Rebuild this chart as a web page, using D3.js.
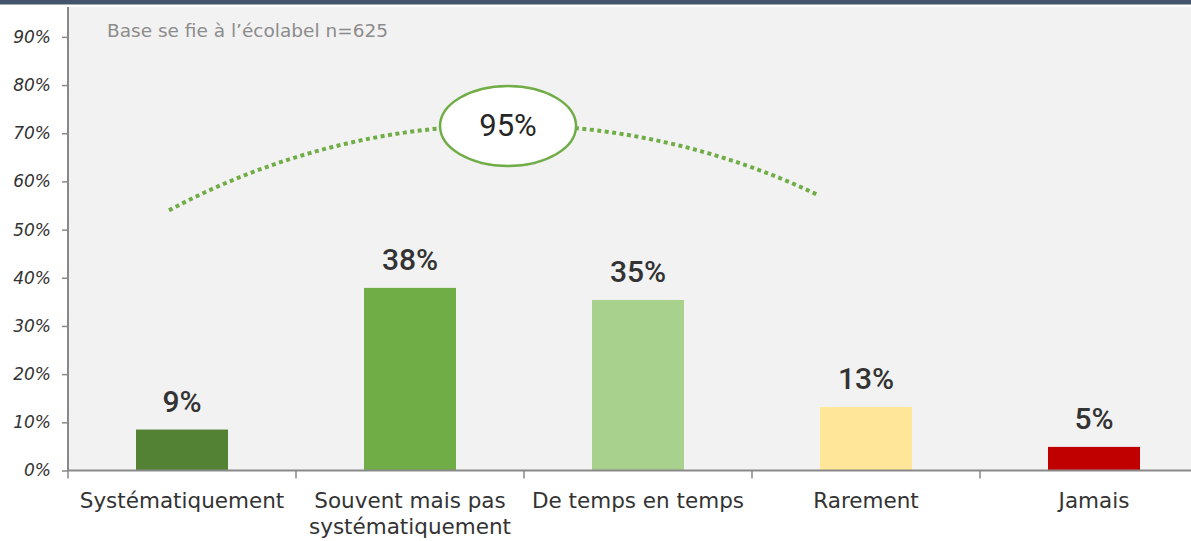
<!DOCTYPE html>
<html>
<head>
<meta charset="utf-8">
<script src="https://cdn.jsdelivr.net/npm/d3@7"></script>
<style>
  body { margin: 0; background: #fff; }
  svg { display: block; }
</style>
</head>
<body>
<svg width="1191" height="541"></svg>
<script>

// DATA ––––––––––––––––––––––––––––––––––––––––––––––––––––––––––––––––

var categories = ["Systématiquement", "Souvent mais pas systématiquement", "De temps en temps", "Rarement", "Jamais"];
var labelLines = [["Systématiquement"], ["Souvent mais pas", "systématiquement"], ["De temps en temps"], ["Rarement"], ["Jamais"]];
var values = [0.085, 0.379, 0.354, 0.132, 0.049];
var valueLabels = ["9%", "38%", "35%", "13%", "5%"];
var barColors = ["#548235", "#70ad47", "#a9d18e", "#ffe699", "#c00000"];
var yTicks = [0, 0.1, 0.2, 0.3, 0.4, 0.5, 0.6, 0.7, 0.8, 0.9];
var baseNote = "Base se fie à l’écolabel n=625";

// annotation : arc over the first three answers (category index, value)
var arcPoints = [{i: 0.443, v: 0.54}, {i: 1.917, v: 0.717}, {i: 3.289, v: 0.572}];
var bubble = {i: 1.93, v: 0.715, text: "95%"};


// D3 ––––––––––––––––––––––––––––––––––––––––––––––––––––––––––––––––––

var draw = function() {

  var svg = d3.select("svg"),
      plotLeft = 68, plotTop = 7, plotBottom = 470.5,
      step = 228;

  svg.append("rect").attr("x", 0).attr("y", 0).attr("width", 1191).attr("height", 4.5).attr("fill", "#44546a");
  svg.append("rect").attr("x", plotLeft).attr("y", plotTop).attr("width", 1191 - plotLeft).attr("height", plotBottom - plotTop).attr("fill", "#f2f2f2");

  var x = d3.scaleBand()
    .domain(categories)
    .range([plotLeft, plotLeft + step * categories.length])
    .paddingInner(0.5965)
    .paddingOuter(0.29825);

  var xi = d3.scaleLinear().domain([0, categories.length]).range([plotLeft, plotLeft + step * categories.length]);

  var y = d3.scaleLinear()
    .domain([0, 0.962])
    .range([plotBottom, plotTop]);

  // y axis
  var yAxis = svg.append("g")
    .attr("transform", "translate(" + plotLeft + ",0)")
    .call(d3.axisLeft(y).tickValues(yTicks).tickFormat(d3.format(".0%")).tickSize(6).tickPadding(11));
  yAxis.select(".domain").attr("stroke", "#898989").attr("stroke-width", 2).attr("d", "M0," + plotTop + "V" + plotBottom);
  yAxis.selectAll(".tick line").attr("stroke", "#898989").attr("stroke-width", 1.5);
  yAxis.selectAll(".tick text")
    .attr("fill", "#333")
    .style("font-family", "'DejaVu Sans', sans-serif")
    .style("font-style", "italic")
    .style("font-size", "17px");

  // bars
  svg.selectAll(".bar")
    .data(categories)
    .enter().append("rect")
      .attr("class", "bar")
      .attr("x", function(d) { return x(d); })
      .attr("width", x.bandwidth())
      .attr("y", function(d, i) { return y(values[i]); })
      .attr("height", function(d, i) { return plotBottom - y(values[i]); })
      .attr("fill", function(d, i) { return barColors[i]; });

  svg.selectAll(".val")
    .data(categories)
    .enter().append("text")
      .attr("class", "val")
      .attr("x", function(d) { return x(d) + x.bandwidth() / 2; })
      .attr("y", function(d, i) { return y(values[i]) - 18; })
      .attr("text-anchor", "middle")
      .attr("fill", "#333")
      .style("font-family", "Roboto, sans-serif")
      .style("font-weight", 500)
      .style("font-size", "30px")
      .text(function(d, i) { return valueLabels[i]; });

  // x axis
  var xAxis = svg.append("g");
  xAxis.append("line")
    .attr("x1", plotLeft).attr("x2", 1191)
    .attr("y1", plotBottom).attr("y2", plotBottom)
    .attr("stroke", "#898989").attr("stroke-width", 2);
  xAxis.selectAll(".xt")
    .data(d3.range(categories.length + 1))
    .enter().append("line")
      .attr("x1", function(d) { return xi(d); })
      .attr("x2", function(d) { return xi(d); })
      .attr("y1", plotBottom).attr("y2", plotBottom + 8)
      .attr("stroke", "#898989").attr("stroke-width", 1.5);

  var xl = xAxis.selectAll(".xl")
    .data(categories)
    .enter().append("text")
      .attr("class", "xl")
      .attr("text-anchor", "middle")
      .attr("fill", "#333")
      .style("font-family", "'DejaVu Sans', sans-serif")
      .style("font-size", "21.5px");
  xl.selectAll("tspan")
    .data(function(d, i) { return labelLines[i].map(function(t) { return {t: t, c: d}; }); })
    .enter().append("tspan")
      .attr("x", function(d) { return x(d.c) + x.bandwidth() / 2; })
      .attr("y", function(d, j) { return plotBottom + 37.5 + j * 26; })
      .text(function(d) { return d.t; });

  // note
  svg.append("text")
    .attr("x", plotLeft + 39)
    .attr("y", 37)
    .attr("fill", "#8c8c8c")
    .style("font-family", "'DejaVu Sans', sans-serif")
    .style("font-size", "18.5px")
    .text(baseNote);

  // dotted arc through three points
  var pts = arcPoints.map(function(p) { return [xi(p.i), y(p.v)]; });
  var ax = pts[0][0], ay = pts[0][1], bx = pts[1][0], by = pts[1][1], cx = pts[2][0], cy = pts[2][1];
  var dd = 2 * (ax * (by - cy) + bx * (cy - ay) + cx * (ay - by));
  var ux = ((ax * ax + ay * ay) * (by - cy) + (bx * bx + by * by) * (cy - ay) + (cx * cx + cy * cy) * (ay - by)) / dd;
  var uy = ((ax * ax + ay * ay) * (cx - bx) + (bx * bx + by * by) * (ax - cx) + (cx * cx + cy * cy) * (bx - ax)) / dd;
  var r = Math.hypot(ax - ux, ay - uy);
  var a0 = Math.atan2(ay - uy, ax - ux), a1 = Math.atan2(cy - uy, cx - ux);
  var p = d3.path();
  p.arc(ux, uy, r, a0, a1, false);

  svg.append("path")
    .attr("d", p.toString())
    .attr("fill", "none")
    .attr("stroke", "#70ad47")
    .attr("stroke-width", 4)
    .attr("stroke-dasharray", "4 3.5");

  svg.append("ellipse")
    .attr("cx", xi(bubble.i))
    .attr("cy", y(bubble.v))
    .attr("rx", 68)
    .attr("ry", 40)
    .attr("fill", "#fff")
    .attr("stroke", "#70ad47")
    .attr("stroke-width", 2.5);

  svg.append("text")
    .attr("x", xi(bubble.i))
    .attr("y", y(bubble.v) + 10)
    .attr("text-anchor", "middle")
    .attr("fill", "#262626")
    .style("font-family", "Roboto, sans-serif")
    .style("font-size", "31px")
    .text(bubble.text);
};

draw();

</script>
</body>
</html>
